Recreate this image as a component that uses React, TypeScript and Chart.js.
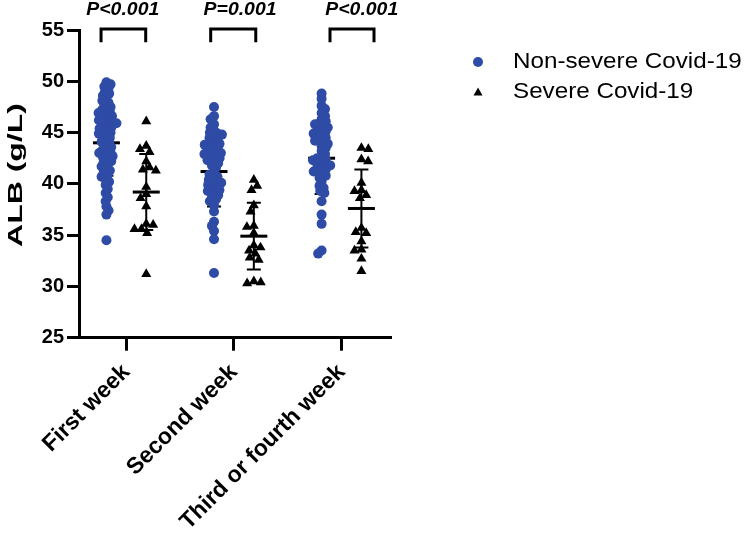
import { useEffect, useRef } from 'react';
import { Chart, registerables } from 'chart.js';

Chart.register(...registerables);

// ---------- data ----------
const categories = ['First week', 'Second week', 'Third or fourth week'];

const nonSevereWeek1 = [
  49.9, 49.7, 49.5, 49.3, 49.0, 48.8, 48.6, 48.3, 48.1, 47.9, 47.7,
  47.5, 47.3, 47.2, 47.0, 46.9, 46.7, 46.6, 46.5, 46.3, 46.2, 46.1, 46.0,
  45.9, 45.8, 45.6, 45.5, 45.4, 45.3, 45.1, 45.0, 44.9, 44.8, 44.6, 44.5,
  44.3, 44.1, 44.0, 43.8, 43.6,
  43.4, 43.3, 43.1, 43.0, 42.9, 42.7, 42.6, 42.4, 42.2, 42.1,
  41.9, 41.7, 41.5, 41.3, 41.1, 40.9, 40.7, 40.5,
  40.2, 39.9, 39.5, 39.1, 38.7, 38.3, 37.8, 37.4, 37.0,
  34.5,
];
const nonSevereWeek2 = [
  47.5, 46.6, 46.3, 45.8, 45.5,
  45.2, 45.0, 44.9, 44.8, 44.6, 44.5, 44.3, 44.1, 44.0, 43.9, 43.8, 43.7,
  43.5, 43.3, 43.2, 43.1, 43.0, 42.9, 42.7, 42.6, 42.5, 42.3, 42.2, 42.0, 41.8,
  41.6, 41.0,
  40.9, 40.7, 40.5, 40.4, 40.2, 40.1, 40.0, 39.9, 39.7, 39.5, 39.4, 39.3,
  39.1, 38.9, 38.7, 38.5, 38.3,
  37.9, 37.3, 36.3, 35.9, 35.4, 34.6, 31.3,
];
const nonSevereWeek3 = [
  48.8, 48.3, 47.6, 47.3, 46.9, 46.6,
  46.3, 46.1, 45.9, 45.8, 45.7, 45.5, 45.3, 45.1, 45.0, 44.9, 44.7, 44.5,
  44.3, 44.2, 44.1, 43.9, 43.7, 43.5,
  43.2, 42.9,
  42.6, 42.5, 42.4, 42.3, 42.1, 42.0, 41.9, 41.8, 41.6, 41.5, 41.4, 41.2,
  41.0, 40.8, 40.6,
  40.2, 39.8, 39.6, 39.3, 39.1,
  38.3, 37.0, 36.1, 33.5, 33.2,
];

const severeWeek1 = [
  46.1, 43.7, 43.4, 43.1, 42.2, 41.6, 41.4, 41.3, 39.7, 39.0, 38.6, 37.8,
  36.1, 36.0, 35.6, 35.6, 35.2, 31.2,
];
const severeWeek2 = [
  40.4, 39.8, 39.4, 37.9, 37.3, 35.9, 35.8, 35.2, 34.0, 33.8, 33.5, 33.2,
  32.8, 32.6, 30.5, 30.4, 30.3,
];
const severeWeek3 = [
  43.5, 43.4, 42.4, 42.2, 40.1, 39.4, 39.3, 38.9, 38.6, 35.7, 35.3, 35.2,
  34.4, 33.6, 33.5, 32.7, 31.5,
];

const nonSevereMeans = [44.0, 41.2, 42.5];
const nonSevereSDs = [3.2, 3.4, 3.5];
const severeMeans = [39.2, 34.9, 37.6];
const severeSDs = [3.7, 3.25, 3.8];

const pLabels = ['P<0.001', 'P=0.001', 'P<0.001'];
// bracket ends and label centres, in x-axis units (category index)
const bracketLeft = [-0.235, -0.216, -0.107];
const bracketRight = [0.18, 0.203, 0.302];
const pLabelX = [-0.033, 0.057, 0.188];
const bracketTop = 55.1;
const bracketLeg = 53.8;
const pLabelY = 56.9;

const yMin = 25;
const yMax = 55;
const yStep = 5;

const legendLabels = ['Non-severe Covid-19', 'Severe Covid-19'];

// ---------- style ----------
const BLUE = '#2e4ba6';
const FONT = "'Liberation Sans', Arial, Helvetica, sans-serif";
const GROUP_OFFSET = 0.185;
const PX_PER_X = 107.6; // approx, used only for swarm spacing
const PX_PER_Y = 10.26;

function swarm(values: number[], center: number, diam: number) {
  const placed: { px: number; py: number }[] = [];
  const order = values.map((_, i) => i).sort((a, b) => values[b] - values[a]);
  const out: { x: number; y: number }[] = new Array(values.length);
  let flip = 1;
  for (const i of order) {
    const py = values[i] * PX_PER_Y;
    const near = placed.filter((p) => Math.abs(p.py - py) < diam);
    const cands = [0];
    for (const p of near) {
      const dx = Math.sqrt(diam * diam - (p.py - py) * (p.py - py));
      cands.push(p.px + dx, p.px - dx);
    }
    cands.sort((a, b) => Math.abs(a) - Math.abs(b) || (a - b) * flip);
    let chosen = 0;
    for (const c of cands) {
      if (near.every((p) => (p.px - c) ** 2 + (p.py - py) ** 2 >= diam * diam - 1e-6)) {
        chosen = c;
        break;
      }
    }
    flip = -flip;
    placed.push({ px: chosen, py });
    out[i] = { x: center + chosen / PX_PER_X, y: values[i] };
  }
  return out;
}

const annotPlugin = {
  id: 'annot',
  beforeDatasetsDraw(chart: any) {
    const { ctx, scales } = chart;
    const x = scales.x;
    const y = scales.y;
    ctx.save();
    ctx.strokeStyle = '#000';
    const drawErr = (cx: number, mean: number, sd: number) => {
      const px = x.getPixelForValue(cx);
      const pm = y.getPixelForValue(mean);
      const pt = y.getPixelForValue(mean + sd);
      const pb = y.getPixelForValue(mean - sd);
      ctx.lineWidth = 2;
      ctx.beginPath();
      ctx.moveTo(px, pt);
      ctx.lineTo(px, pb);
      ctx.moveTo(px - 7, pt);
      ctx.lineTo(px + 7, pt);
      ctx.moveTo(px - 7, pb);
      ctx.lineTo(px + 7, pb);
      ctx.stroke();
      ctx.lineWidth = 3;
      ctx.beginPath();
      ctx.moveTo(px - 13.5, pm);
      ctx.lineTo(px + 13.5, pm);
      ctx.stroke();
    };
    for (let i = 0; i < categories.length; i++) {
      drawErr(i - GROUP_OFFSET, nonSevereMeans[i], nonSevereSDs[i]);
      drawErr(i + GROUP_OFFSET, severeMeans[i], severeSDs[i]);
    }
    ctx.restore();
  },
  afterDraw(chart: any) {
    const { ctx, scales } = chart;
    const x = scales.x;
    const y = scales.y;
    ctx.save();
    // brackets
    ctx.strokeStyle = '#000';
    ctx.lineWidth = 3;
    ctx.lineJoin = 'miter';
    for (let i = 0; i < pLabels.length; i++) {
      const l = x.getPixelForValue(i + bracketLeft[i]);
      const r = x.getPixelForValue(i + bracketRight[i]);
      const t = y.getPixelForValue(bracketTop);
      const b = y.getPixelForValue(bracketLeg);
      ctx.beginPath();
      ctx.moveTo(l, b);
      ctx.lineTo(l, t);
      ctx.lineTo(r, t);
      ctx.lineTo(r, b);
      ctx.stroke();
      // p label
      ctx.save();
      ctx.translate(x.getPixelForValue(i + pLabelX[i]), y.getPixelForValue(pLabelY));
      ctx.scale(1.08, 1);
      ctx.font = `italic bold 18px ${FONT}`;
      ctx.fillStyle = '#000';
      ctx.textAlign = 'center';
      ctx.textBaseline = 'middle';
      ctx.fillText(pLabels[i], 0, 0);
      ctx.restore();
    }
    // y-axis title
    ctx.save();
    ctx.translate(16, 175);
    ctx.rotate(-Math.PI / 2);
    ctx.scale(1.6, 1);
    ctx.font = `bold 20px ${FONT}`;
    ctx.fillStyle = '#000';
    ctx.textAlign = 'center';
    ctx.textBaseline = 'middle';
    ctx.fillText('ALB (g/L)', 0, 0);
    ctx.restore();
    // legend
    ctx.fillStyle = BLUE;
    ctx.beginPath();
    ctx.arc(478, 62, 5, 0, Math.PI * 2);
    ctx.fill();
    ctx.fillStyle = '#000';
    ctx.beginPath();
    ctx.moveTo(478, 87.5);
    ctx.lineTo(482.5, 95.5);
    ctx.lineTo(473.5, 95.5);
    ctx.closePath();
    ctx.fill();
    ctx.font = `22px ${FONT}`;
    ctx.textAlign = 'left';
    ctx.textBaseline = 'middle';
    [62, 92].forEach((ty, k) => {
      ctx.save();
      ctx.translate(513, ty);
      ctx.scale(1.1, 1);
      ctx.fillText(legendLabels[k], 0, 0);
      ctx.restore();
    });
    ctx.restore();
  },
};

export default function App() {
  const ref = useRef<HTMLCanvasElement>(null);
  useEffect(() => {
    if (!ref.current) return;
    const nonSevere = [nonSevereWeek1, nonSevereWeek2, nonSevereWeek3];
    const severe = [severeWeek1, severeWeek2, severeWeek3];
    const chart = new Chart(ref.current, {
      type: 'scatter',
      data: {
        datasets: [
          {
            label: legendLabels[0],
            data: nonSevere.flatMap((vals, i) => swarm(vals, i - GROUP_OFFSET, 4.6)),
            pointStyle: 'circle',
            pointRadius: 5,
            backgroundColor: BLUE,
            borderColor: BLUE,
            borderWidth: 0,
          },
          {
            label: legendLabels[1],
            data: severe.flatMap((vals, i) => swarm(vals, i + GROUP_OFFSET, 7)),
            pointStyle: 'triangle',
            pointRadius: 5.8,
            backgroundColor: '#000',
            borderColor: '#000',
            borderWidth: 0,
          },
        ],
      },
      options: {
        animation: false,
        responsive: false,
        events: [],
        layout: { padding: { top: 30, right: 359, bottom: 0, left: 0 } },
        plugins: { legend: { display: false }, tooltip: { enabled: false } },
        scales: {
          x: {
            type: 'linear',
            min: -0.44,
            max: 2.46,
            afterBuildTicks: (s: any) => {
              s.ticks = categories.map((_, i) => ({ value: i }));
            },
            afterFit: (s: any) => {
              s.height = 535 - 337.7;
            },
            ticks: {
              autoSkip: false,
              minRotation: 45,
              maxRotation: 45,
              padding: 8,
              color: '#000',
              font: { family: FONT, size: 23, weight: 'bold' },
              callback: (v: any) => categories[v as number] ?? '',
            },
            grid: {
              display: true,
              drawOnChartArea: false,
              tickLength: 13,
              tickWidth: 3,
              tickColor: '#000',
            },
            border: { display: true, color: '#000', width: 3 },
          },
          y: {
            min: yMin,
            max: yMax,
            afterFit: (s: any) => {
              s.width = 79;
            },
            ticks: {
              stepSize: yStep,
              padding: 3,
              color: '#000',
              font: { family: FONT, size: 20, weight: 'bold' },
            },
            grid: {
              display: true,
              drawOnChartArea: false,
              tickLength: 12,
              tickWidth: 3,
              tickColor: '#000',
            },
            border: { display: true, color: '#000', width: 3 },
          },
        },
      },
      plugins: [annotPlugin],
    } as any);
    return () => chart.destroy();
  }, []);
  return (
    <div style={{ position: 'absolute', left: 0, top: 0, width: 750, height: 535, background: '#fff' }}>
      <canvas ref={ref} width={750} height={535} style={{ width: 750, height: 535 }} />
    </div>
  );
}
